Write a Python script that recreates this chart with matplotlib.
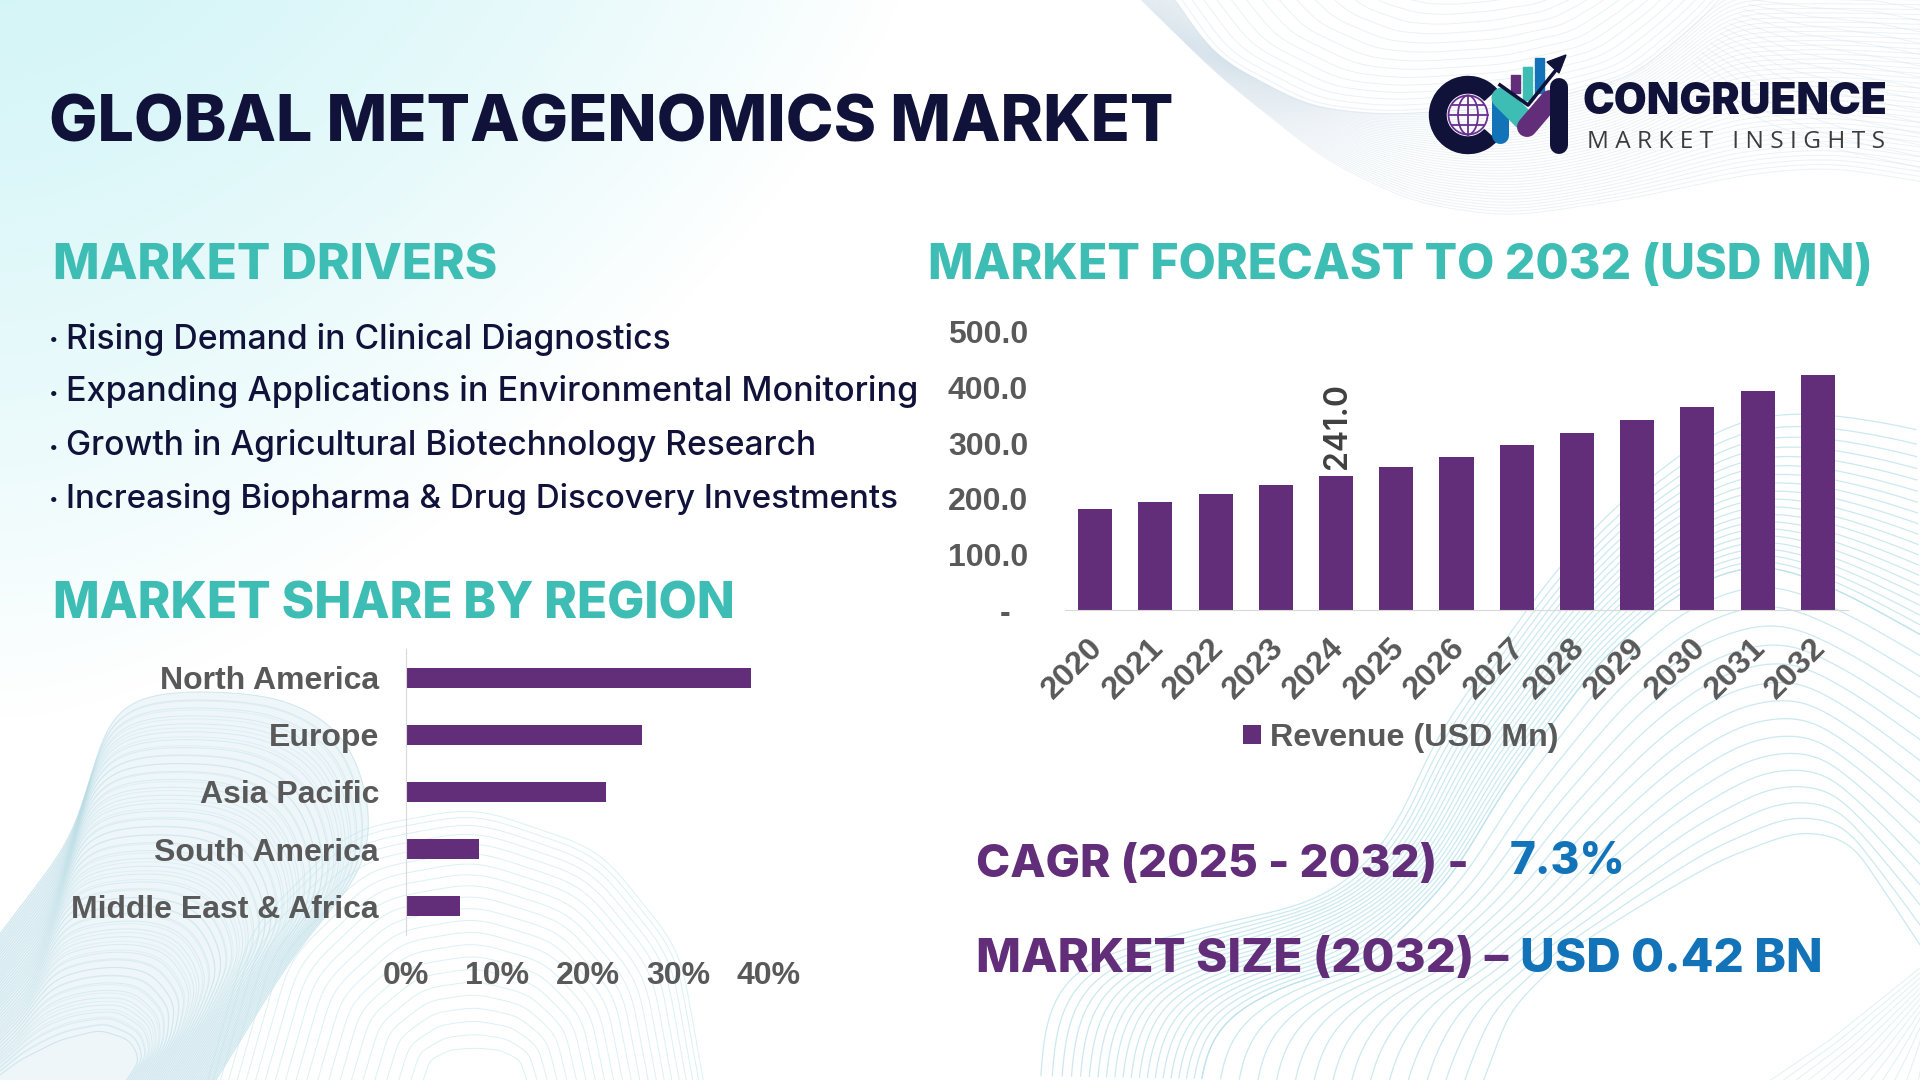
import numpy as np
import matplotlib
matplotlib.use('Agg')
import matplotlib.pyplot as plt
from matplotlib.collections import LineCollection
from matplotlib.patches import Wedge, Circle, Ellipse, Rectangle, Polygon
from matplotlib.transforms import ScaledTranslation

years = ['2020', '2021', '2022', '2023', '2024', '2025', '2026', '2027', '2028', '2029', '2030', '2031', '2032']
revenue = [181, 194, 208, 224, 241, 257, 276, 296, 318, 341, 366, 393, 422]
revenue_ticks = [0, 100, 200, 300, 400, 500]
revenue_tick_labels = ['-  ', '100.0', '200.0', '300.0', '400.0', '500.0']

regions = ['North America', 'Europe', 'Asia Pacific', 'South America', 'Middle East & Africa']
shares = [38, 26, 22, 8, 6]
share_ticks = [0, 10, 20, 30, 40]
share_tick_labels = ['0%', '10%', '20%', '30%', '40%']

drivers = ['Rising Demand in Clinical Diagnostics',
	'Expanding Applications in Environmental Monitoring',
	'Growth in Agricultural Biotechnology Research',
	'Increasing Biopharma & Drug Discovery Investments']

NAVY = '#11123a'
TEAL = '#3dbdb3'
PURPLE = '#622d79'
BLUE = '#1273b8'
GREY = '#595959'
HEAD = 'Inter'
ARIAL = 'Liberation Sans'
LABEL_SIZE = 23

W, H = 1920, 1080


def main():
	fig = plt.figure(figsize=(W / 100, H / 100), dpi=100, facecolor='white')

	# whole figure in pixel coords, y down, for the backdrop, logo and headings
	bg = fig.add_axes([0, 0, 1, 1], zorder=0)
	bg.set_xlim(0, W)
	bg.set_ylim(H, 0)
	bg.axis('off')

	draw_backdrop(bg)
	draw_logo(bg)

	renderer = fig.canvas.get_renderer()

	def put(x0, x1, y, s, color, weight=800, size=30, family=HEAD):
		t = bg.text(x0, y, s, color=color, fontweight=weight, fontsize=size, family=family, ha='left', va='center')
		w = t.get_window_extent(renderer).width
		t.set_fontsize(size * (x1 - x0) / w)
		return t

	put(49, 1174, 124, 'GLOBAL METAGENOMICS MARKET', NAVY, weight=800)
	put(53, 498, 266, 'MARKET DRIVERS', TEAL)
	put(928, 1873, 266, 'MARKET FORECAST TO 2032 (USD MN)', TEAL)
	put(53, 736, 605, 'MARKET SHARE BY REGION', TEAL)

	ends = [670, 917, 817, 900]
	rows = [339, 392, 446, 499]
	for d, e, y in zip(drivers, ends, rows):
		bg.text(49, y + 1, '\u2022', color=NAVY, fontsize=12, family=HEAD, ha='left', va='center')
		put(66, e, y, d, NAVY, weight='medium')

	put(976, 1470, 865, 'CAGR (2025 - 2032) -', PURPLE)
	put(1510, 1626, 862, '7.3%', BLUE)
	put(976, 1509, 960, 'MARKET SIZE (2032) \u2013', PURPLE)
	put(1520, 1823, 960, 'USD 0.42 BN', BLUE)

	put(1583, 1888, 102, 'CONGRUENCE', NAVY, weight='black')
	put(1587, 1885, 142, 'M A R K E T   I N S I G H T S', '#3c3c3c', weight='normal', family='Open Sans')

	# forecast bars
	ax = fig.add_axes([1065 / W, 1 - 610 / H, 783 / W, 278 / H], zorder=2)
	ax.patch.set_alpha(0)
	bars = ax.bar(range(len(years)), revenue, width=0.565, color=PURPLE, label='Revenue (USD Mn)')
	ax.set_xlim(-0.5, len(years) - 0.5)
	ax.set_ylim(0, 500)
	ax.set_yticks(revenue_ticks)
	ax.set_yticklabels(revenue_tick_labels, fontsize=LABEL_SIZE, fontweight='bold', color=GREY, family=ARIAL)
	ax.set_xticks(range(len(years)))
	ax.set_xticklabels(years, fontsize=LABEL_SIZE + 0.4, fontweight='bold', color=GREY, family=ARIAL,
		rotation=45, ha='right', va='top', rotation_mode='anchor')
	ax.tick_params(axis='y', length=0, pad=26.5)
	ax.tick_params(axis='x', length=0, pad=16.5)
	# tick_params resets label transforms, so nudge the years after it
	shift = ScaledTranslation(-7 / 100, 0, fig.dpi_scale_trans)
	for lab in ax.get_xticklabels():
		lab.set_transform(lab.get_transform() + shift)
	for s in ['top', 'left', 'right']:
		ax.spines[s].set_visible(False)
	ax.spines['bottom'].set_color('#d9d9d9')
	ax.text(4.03, revenue[4] + 12, '241.0', rotation=90, ha='center', va='bottom', fontsize=23,
		color='#404040', family=HEAD, fontweight='semibold')

	fig.legend(handles=[bars], loc='center', bbox_to_anchor=(1401 / W, 1 - 738 / H), frameon=False,
		handlelength=0.55, handleheight=0.55, handletextpad=0.3,
		prop={'family': ARIAL, 'weight': 'bold', 'size': LABEL_SIZE + 0.2}, labelcolor=GREY)

	# region share bars
	ax2 = fig.add_axes([406 / W, 1 - 935 / H, 363 / W, 286 / H], zorder=2)
	ax2.patch.set_alpha(0)
	ax2.barh(range(len(regions)), shares, height=0.35, color=PURPLE)
	ax2.set_xlim(0, 40)
	ax2.set_ylim(len(regions) - 0.5, -0.5)
	ax2.set_yticks(range(len(regions)))
	ax2.set_yticklabels(regions, fontsize=LABEL_SIZE, fontweight='bold', color=GREY, family=ARIAL)
	ax2.set_xticks(share_ticks)
	ax2.set_xticklabels(share_tick_labels, fontsize=LABEL_SIZE, fontweight='bold', color=GREY, family=ARIAL)
	ax2.tick_params(axis='y', length=0, pad=19.5)
	ax2.tick_params(axis='x', length=0, pad=19)
	for s in ['top', 'bottom', 'right']:
		ax2.spines[s].set_visible(False)
	ax2.spines['left'].set_color('#d9d9d9')

	fig.savefig('out.png', dpi=100)


def smooth(pts, n=200):
	# rounds off a polyline given by a few points
	pts = np.array(pts, dtype=float)
	seg = np.hypot(*np.diff(pts, axis=0).T)
	u = np.r_[0, np.cumsum(seg)]
	t = np.linspace(0, u[-1], n)
	x = np.interp(t, u, pts[:, 0])
	y = np.interp(t, u, pts[:, 1])
	k = np.hanning(31)
	k /= k.sum()
	x2 = np.convolve(np.pad(x, 15, mode='edge'), k, mode='valid')
	y2 = np.convolve(np.pad(y, 15, mode='edge'), k, mode='valid')
	return np.c_[x2, y2]


def family(ax, a, b, n, color, alpha, lw=0.7, power=1.0):
	# n lines going from curve a to curve b
	a = smooth(a)
	b = smooth(b)
	lines = []
	for f in np.linspace(0, 1, n) ** power:
		lines.append(a * (1 - f) + b * f)
	ax.add_collection(LineCollection(lines, colors=color, alpha=alpha, linewidths=lw, zorder=1))


def draw_backdrop(ax):
	yy, xx = np.mgrid[0:H:2, 0:W:2]
	t = np.clip((xx / 900.0) ** 1.6 + (yy / 720.0) ** 1.2, 0, 1)
	img = np.zeros(xx.shape + (4,))
	img[..., :3] = matplotlib.colors.to_rgb('#d0f5f7')
	img[..., 3] = (1 - t) ** 1.0 * 0.9
	ax.imshow(img, extent=(0, W, H, 0), aspect='auto', zorder=0, interpolation='bilinear')
	ax.set_xlim(0, W)
	ax.set_ylim(H, 0)

	# top right wave
	low = [(1131, -10), (1220, 77), (1325, 160), (1414, 203), (1508, 217), (1623, 200), (1754, 173), (1832, 167), (1930, 183)]
	crease = [(1168, -10), (1215, 57), (1309, 107), (1382, 115), (1518, 107), (1633, 77), (1701, 20), (1728, -10), (1930, -10)]
	family(ax, low, crease, 40, '#c5d8e6', 0.22)
	family(ax, low[::-1], crease[::-1], 40, '#c5d8e6', 0.14, lw=0.5)
	top = [(1400, -10), (1420, -8), (1440, -6), (1460, -6), (1480, -8), (1500, -10), (1520, -10), (1540, -10), (1560, -10)]
	family(ax, crease[:8], top[:8], 16, '#d3e1ec', 0.45, power=1.3)
	family(ax, [(1690, 60), (1760, 120), (1840, 150), (1930, 170)], [(1760, -10), (1820, -10), (1880, -10), (1930, 0)], 16, '#d3e1ec', 0.4)

	# bottom left lobe
	outer = [(-20, 960), (71, 840), (109, 717), (127, 698), (193, 690), (285, 697), (346, 733), (372, 807), (366, 867), (290, 960), (210, 1090)]
	inner = [(-20, 1090), (20, 1060), (60, 1040), (100, 1030), (130, 1040), (140, 1060), (120, 1090)]
	ax.add_patch(Polygon(np.vstack([smooth(outer), [(-20, 1090)]]), color='#cfe8ee', alpha=0.35, lw=0, zorder=1))
	family(ax, outer, inner, 45, '#a8d5e0', 0.32)
	family(ax, outer[::-1], inner[::-1], 40, '#a8d5e0', 0.22)

	# bottom centre arches
	a1 = [(205, 1090), (250, 930), (350, 830), (474, 807), (600, 850), (680, 950), (705, 1090)]
	a2 = [(420, 1090), (430, 1060), (450, 1050), (474, 1048), (500, 1050), (520, 1060), (530, 1090)]
	family(ax, a1, a2, 22, '#c3e8ec', 0.6, power=1.2)

	# bottom right wave
	edge = [(1040, 1090), (1046, 1000), (1082, 960), (1205, 927), (1327, 900), (1389, 843), (1438, 733), (1558, 567), (1621, 500), (1717, 427), (1781, 410), (1877, 420), (1930, 433)]
	mid = [(1200, 1090), (1210, 1030), (1270, 990), (1370, 960), (1450, 880), (1510, 780), (1600, 660), (1680, 590), (1760, 560), (1840, 590), (1930, 640)]
	end = [(1480, 1090), (1510, 1010), (1570, 950), (1650, 900), (1720, 860), (1800, 830), (1850, 840), (1897, 910), (1930, 960)]
	family(ax, edge, mid, 20, '#b5e0ea', 0.7, lw=0.9, power=0.9)
	family(ax, mid, end, 16, '#b5e0ea', 0.7, lw=0.9)
	family(ax, [(1756, 1090), (1830, 1040), (1880, 1000), (1930, 960)], [(1930, 1090), (1930, 1060), (1930, 1040), (1930, 1020)], 14, '#bfe3ea', 0.5)


def draw_logo(ax):
	cx, cy = 1468, 115
	ax.add_patch(Wedge((cx, cy), 38.5, 42, 318, width=16.5, color=NAVY, zorder=3))

	# globe
	g = dict(fill=False, ec='#6a3090', lw=1.3, zorder=3)
	ax.add_patch(Circle((cx, cy), 19.5, **g))
	ax.add_patch(Ellipse((cx, cy), 20, 39, **g))
	ax.plot([cx, cx], [cy - 19.5, cy + 19.5], color='#6a3090', lw=1.3, zorder=3)
	ax.plot([cx - 19.5, cx + 19.5], [cy, cy], color='#6a3090', lw=1.3, zorder=3)
	ax.plot([cx - 16, cx + 16], [cy - 10, cy - 10], color='#6a3090', lw=1.3, zorder=3)
	ax.plot([cx - 16, cx + 16], [cy + 10, cy + 10], color='#6a3090', lw=1.3, zorder=3)

	for x, top, bot, c in [(1511, 75, 93, PURPLE), (1523, 67, 100, TEAL), (1535, 58, 93, BLUE)]:
		ax.add_patch(Rectangle((x, top), 9, bot - top, color=c, zorder=3))

	def pill(xs, ys, c, w):
		ax.plot(xs, ys, color=c, lw=w * 0.72, solid_capstyle='round', zorder=4)

	pill([1500, 1500], [100, 135], BLUE, 17)
	pill([1502, 1524], [98, 120], TEAL, 21)
	pill([1527, 1550], [127, 100], PURPLE, 20)
	pill([1559, 1559], [87, 145], NAVY, 18)
	ax.plot([1500, 1528, 1560], [85, 105, 65], color=NAVY, lw=2.6, zorder=5)
	ax.add_patch(Polygon([(1566, 55), (1547, 62), (1559, 73)], color=NAVY, zorder=5))


if __name__ == '__main__':
	main()
